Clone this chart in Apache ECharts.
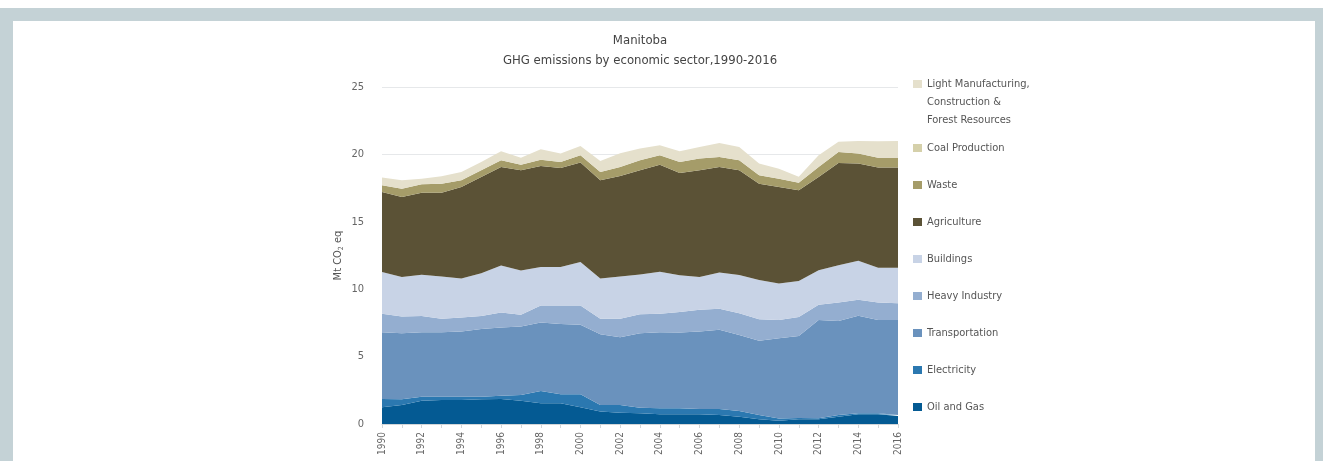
<!DOCTYPE html>
<html>
<head>
<meta charset="utf-8">
<title>Manitoba GHG emissions by economic sector</title>
<script src="https://cdn.jsdelivr.net/npm/echarts@6/dist/echarts.min.js"></script>
<style>
	html, body { margin: 0; padding: 0; width: 1323px; height: 461px; background: #fff; overflow: hidden; }
	#frame { position: absolute; left: 0; top: 8px; width: 1323px; height: 453px; background: #c4d2d6; }
	#panel { position: absolute; left: 13px; top: 13px; width: 1302px; height: 440px; background: #fff; }
	#chart { position: absolute; left: 0; top: 0; width: 1323px; height: 461px; }
</style>
</head>
<body>
<div id="frame"><div id="panel"></div></div>
<div id="chart"></div>
<script>
	/* values in Mt CO2 eq */
	var years = ['1990', '1991', '1992', '1993', '1994', '1995', '1996', '1997', '1998', '1999', '2000',
		'2001', '2002', '2003', '2004', '2005', '2006', '2007', '2008', '2009', '2010', '2011', '2012',
		'2013', '2014', '2015', '2016'];

	var oilAndGas = [1.24, 1.41, 1.73, 1.78, 1.78, 1.83, 1.86, 1.73, 1.54, 1.54, 1.24, 0.92, 0.84, 0.79,
		0.72, 0.72, 0.72, 0.67, 0.54, 0.35, 0.25, 0.35, 0.35, 0.54, 0.72, 0.72, 0.59];
	var electricity = [0.62, 0.42, 0.30, 0.25, 0.25, 0.20, 0.24, 0.43, 0.91, 0.67, 0.97, 0.49, 0.57, 0.42,
		0.44, 0.44, 0.39, 0.44, 0.43, 0.32, 0.15, 0.10, 0.07, 0.13, 0.07, 0.07, 0.08];
	var transportation = [4.94, 4.91, 4.77, 4.77, 4.83, 5.01, 5.05, 5.07, 5.08, 5.20, 5.15, 5.25, 5.03, 5.53,
		5.64, 5.62, 5.75, 5.88, 5.64, 5.50, 5.96, 6.08, 7.30, 6.98, 7.24, 6.93, 7.05];
	var heavyIndustry = [1.37, 1.24, 1.22, 1.00, 1.04, 0.98, 1.12, 0.87, 1.26, 1.38, 1.43, 1.14, 1.36, 1.41,
		1.37, 1.52, 1.61, 1.56, 1.61, 1.60, 1.36, 1.40, 1.12, 1.36, 1.19, 1.29, 1.24];
	var buildings = [3.10, 2.92, 3.05, 3.15, 2.90, 3.17, 3.49, 3.29, 2.85, 2.85, 3.22, 3.00, 3.15, 2.94,
		3.13, 2.73, 2.43, 2.68, 2.83, 2.91, 2.71, 2.67, 2.56, 2.77, 2.89, 2.59, 2.64];
	var agriculture = [5.94, 5.94, 6.09, 6.21, 6.78, 7.14, 7.31, 7.43, 7.50, 7.35, 7.38, 7.28, 7.45, 7.73,
		7.94, 7.59, 7.92, 7.84, 7.77, 7.15, 7.15, 6.74, 6.93, 7.59, 7.21, 7.42, 7.42];
	var waste = [0.50, 0.62, 0.62, 0.67, 0.50, 0.49, 0.49, 0.42, 0.47, 0.45, 0.55, 0.62, 0.67, 0.74,
		0.70, 0.82, 0.87, 0.74, 0.74, 0.62, 0.62, 0.56, 0.74, 0.81, 0.74, 0.74, 0.74];
	var coalProduction = [0, 0, 0, 0, 0, 0, 0, 0, 0, 0, 0, 0, 0, 0, 0, 0, 0, 0, 0, 0, 0, 0, 0, 0, 0, 0, 0];
	var lightManufacturing = [0.57, 0.62, 0.42, 0.55, 0.62, 0.62, 0.67, 0.52, 0.77, 0.62, 0.69, 0.81, 1.01, 0.87,
		0.74, 0.79, 0.86, 1.04, 0.99, 0.87, 0.74, 0.45, 0.87, 0.75, 0.94, 1.22, 1.24];

	var yTicks = [0, 5, 10, 15, 20, 25];

	var LM_NAME = 'Light Manufacturing, Construction & Forest Resources';

	// bottom of the stack first
	var sectors = [
		{ name: 'Oil and Gas', data: oilAndGas, color: '#045a93' },
		{ name: 'Electricity', data: electricity, color: '#2b78b0' },
		{ name: 'Transportation', data: transportation, color: '#6a92bd' },
		{ name: 'Heavy Industry', data: heavyIndustry, color: '#94aed0' },
		{ name: 'Buildings', data: buildings, color: '#c8d3e6' },
		{ name: 'Agriculture', data: agriculture, color: '#5b5236' },
		{ name: 'Waste', data: waste, color: '#a59c69' },
		{ name: 'Coal Production', data: coalProduction, color: '#d5d0aa' },
		{ name: LM_NAME, data: lightManufacturing, color: '#e5e0cc' }
	];

	var FONT = '"DejaVu Sans Condensed", "Liberation Sans Narrow", sans-serif';

	function buildSeries() {
		return sectors.map(function(s) {
			return {
				name : s.name,
				type : 'line',
				stack : 'total',
				data : s.data,
				showSymbol : false,
				symbol : 'none',
				lineStyle : { width : 0 },
				areaStyle : { color : s.color, opacity : 1 },
				itemStyle : { color : s.color },
				emphasis : { disabled : true }
			};
		});
	}

	var otherLegendNames = sectors.slice(0, 8).map(function(s) { return s.name; }).reverse();

	var chart = echarts.init(document.getElementById('chart'), null, { renderer : 'canvas' });
	chart.setOption({
		backgroundColor : 'transparent',
		animation : false,
		color : sectors.map(function(s) { return s.color; }),
		title : {
			text : 'Manitoba\nGHG emissions by economic sector,1990-2016',
			left : 640,
			top : 31,
			padding : 0,
			textAlign : 'center',
			textStyle : {
				fontFamily : FONT,
				fontSize : 13,
				fontWeight : 'normal',
				lineHeight : 20,
				color : '#444'
			}
		},
		legend : [ {
			// the three line label hangs below its marker, so pad it with two blank lines on top
			orient : 'vertical',
			left : 913,
			top : 39,
			padding : 0,
			itemWidth : 9,
			itemHeight : 8,
			icon : 'rect',
			data : [ LM_NAME ],
			formatter : function() {
				return ' \n \nLight Manufacturing,\nConstruction &\nForest Resources';
			},
			textStyle : {
				fontFamily : FONT,
				fontSize : 11,
				lineHeight : 18,
				color : '#555'
			}
		}, {
			orient : 'vertical',
			left : 913,
			top : 139,
			padding : 0,
			itemWidth : 9,
			itemHeight : 8,
			itemGap : 19,
			icon : 'rect',
			data : otherLegendNames,
			textStyle : {
				fontFamily : FONT,
				fontSize : 11,
				lineHeight : 18,
				color : '#555'
			}
		} ],
		grid : {
			left : 382,
			right : 425,
			top : 87,
			bottom : 37,
			containLabel : false
		},
		xAxis : {
			type : 'category',
			data : years,
			boundaryGap : false,
			axisLine : { lineStyle : { color : '#d3d6d8' } },
			axisTick : { interval : 0, length : 4, lineStyle : { color : '#d3d6d8' } },
			axisLabel : {
				interval : 1,
				rotate : 90,
				margin : 8,
				fontFamily : FONT,
				fontSize : 10,
				color : '#666'
			},
			splitLine : { show : false }
		},
		yAxis : {
			type : 'value',
			min : yTicks[0],
			max : yTicks[yTicks.length - 1],
			interval : 5,
			name : 'Mt CO{sub|2} eq',
			nameLocation : 'middle',
			nameGap : 37,
			nameTextStyle : {
				fontFamily : FONT,
				fontSize : 11,
				color : '#555',
				rich : {
					sub : { fontFamily : FONT, fontSize : 7, color : '#555', verticalAlign : 'bottom', padding : [ 6, 0, 0, 0 ] }
				}
			},
			axisLine : { show : false },
			axisTick : { show : false },
			axisLabel : {
				margin : 18,
				fontFamily : FONT,
				fontSize : 11,
				color : '#666'
			},
			splitLine : { lineStyle : { color : '#e6e8ea', width : 1 } }
		},
		series : buildSeries()
	});
</script>
</body>
</html>
